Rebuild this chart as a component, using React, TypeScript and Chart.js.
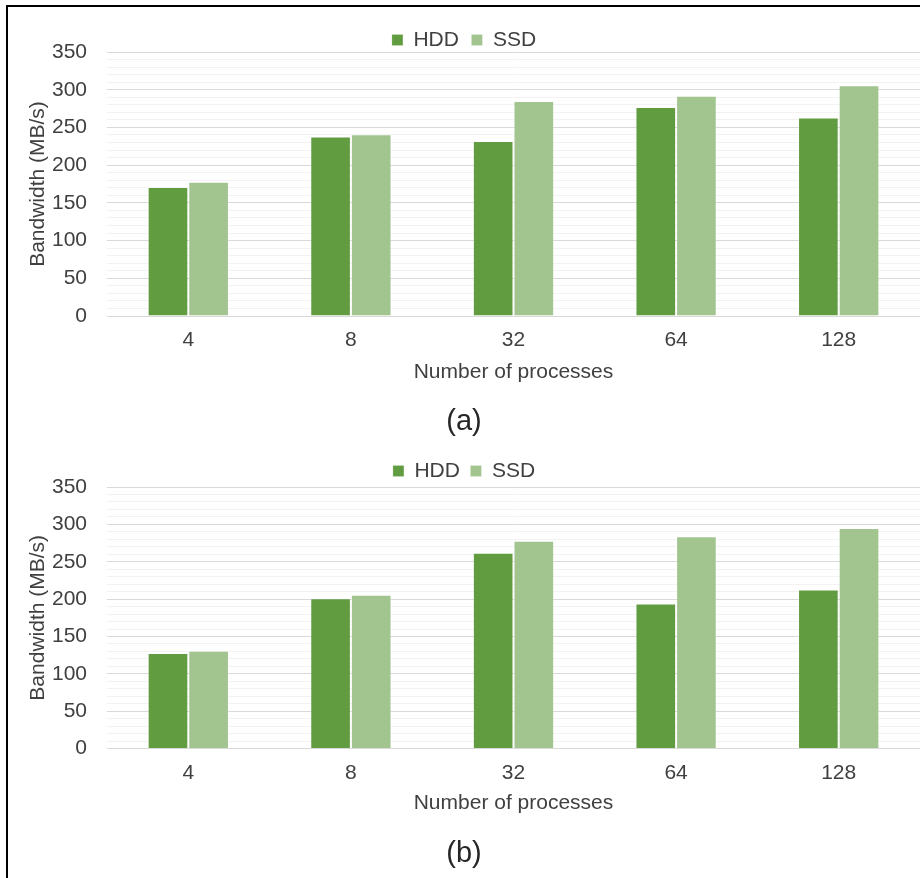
import React, { useEffect, useRef } from "react";
import { Chart, registerables } from "chart.js";

Chart.register(...registerables);

const categories = ["4", "8", "32", "64", "128"];
const hddA = [171, 238, 232, 277, 263];
const ssdA = [178, 241, 285, 292, 306];
const hddB = [128, 201, 262, 194, 213];
const ssdB = [131, 206, 278, 284, 295];
const yMin = 0;
const yMax = 350;
const yStep = 10;
const yLabelStep = 50;

const FONT = "'Liberation Sans', Arial, Helvetica, sans-serif";
const TEXT = "#404040";
const HDD_COLOR = "#619c40";
const SSD_COLOR = "#a2c48f";
const FS = 21;

type Layout = {
  top: number;
  height: number;
  legendPad: number;
  legendMax: number;
  tickPad: number;
  xTitleTop: number;
  capTop: number;
  capBottom: number;
};

function Panel({ hdd, ssd, caption, lay }: { hdd: number[]; ssd: number[]; caption: string; lay: Layout }) {
  const ref = useRef<HTMLCanvasElement | null>(null);
  useEffect(() => {
    if (!ref.current) return;
    const chart = new Chart(ref.current, {
      type: "bar",
      data: {
        labels: categories,
        datasets: [
          {
            label: "HDD",
            data: hdd,
            backgroundColor: HDD_COLOR,
            borderColor: "rgba(255,255,255,0.18)",
            borderWidth: 1,
            categoryPercentage: 0.5,
            barPercentage: 1.0,
          },
          {
            label: "SSD",
            data: ssd,
            backgroundColor: SSD_COLOR,
            borderColor: "rgba(255,255,255,0.18)",
            borderWidth: 1,
            categoryPercentage: 0.5,
            barPercentage: 1.0,
          },
        ],
      },
      options: {
        animation: false,
        responsive: true,
        maintainAspectRatio: false,
        layout: { padding: { top: 10, left: 0, right: 0, bottom: 0 } },
        plugins: {
          tooltip: { enabled: false },
          legend: {
            position: "top",
            maxHeight: lay.legendMax,
            labels: {
              boxWidth: 11,
              boxHeight: 11,
              padding: lay.legendPad,
              color: TEXT,
              font: { family: FONT, size: FS },
            },
          },
          title: {
            display: true,
            position: "bottom",
            text: caption,
            color: "#262626",
            font: { family: FONT, size: 29, weight: "normal" },
            padding: { top: lay.capTop, bottom: lay.capBottom },
          },
        },
        scales: {
          x: {
            grid: { display: false, drawTicks: false },
            border: { display: false },
            ticks: { color: TEXT, font: { family: FONT, size: FS }, padding: lay.tickPad, maxRotation: 0 },
            title: {
              display: true,
              text: "Number of processes",
              color: TEXT,
              font: { family: FONT, size: FS },
              padding: { top: lay.xTitleTop, bottom: 0 },
            },
          },
          y: {
            min: yMin,
            max: yMax,
            grid: {
              drawTicks: false,
              color: (ctx: any) => (ctx.tick && ctx.tick.value % yLabelStep === 0 ? "#d9d9d9" : "#f2f2f2"),
              lineWidth: 1,
            },
            border: { display: false },
            ticks: {
              stepSize: yStep,
              autoSkip: false,
              padding: 20,
              color: TEXT,
              font: { family: FONT, size: FS },
              callback: (v: any) => (Number(v) % yLabelStep === 0 ? String(v) : ""),
            },
            title: {
              display: true,
              text: "Bandwidth (MB/s)",
              color: TEXT,
              font: { family: FONT, size: FS },
              padding: { top: 17.4, bottom: 0 },
            },
            afterFit: (scale: any) => {
              scale.width = 99;
            },
          },
        },
      },
    });
    return () => chart.destroy();
  }, []);
  return (
    <div style={{ position: "absolute", left: 8, top: lay.top, width: 912, height: lay.height }}>
      <canvas ref={ref} />
    </div>
  );
}

const layA: Layout = { top: 7, height: 433, legendPad: 12.5, legendMax: 35, tickPad: 11.4, xTitleTop: -4.6, capTop: 20, capBottom: 0.6 };
const layB: Layout = { top: 440, height: 438, legendPad: 10.5, legendMax: 37, tickPad: 11.8, xTitleTop: -7, capTop: 21, capBottom: 6.6 };

export default function App() {
  return (
    <div style={{ position: "absolute", left: 0, top: 0, width: 920, height: 878, overflow: "hidden", background: "#fff" }}>
      <div
        style={{
          position: "absolute",
          left: 6,
          top: 5,
          width: 1000,
          height: 1000,
          borderLeft: "2px solid #000",
          borderTop: "2px solid #000",
        }}
      />
      <Panel hdd={hddA} ssd={ssdA} caption="(a)" lay={layA} />
      <Panel hdd={hddB} ssd={ssdB} caption="(b)" lay={layB} />
    </div>
  );
}
